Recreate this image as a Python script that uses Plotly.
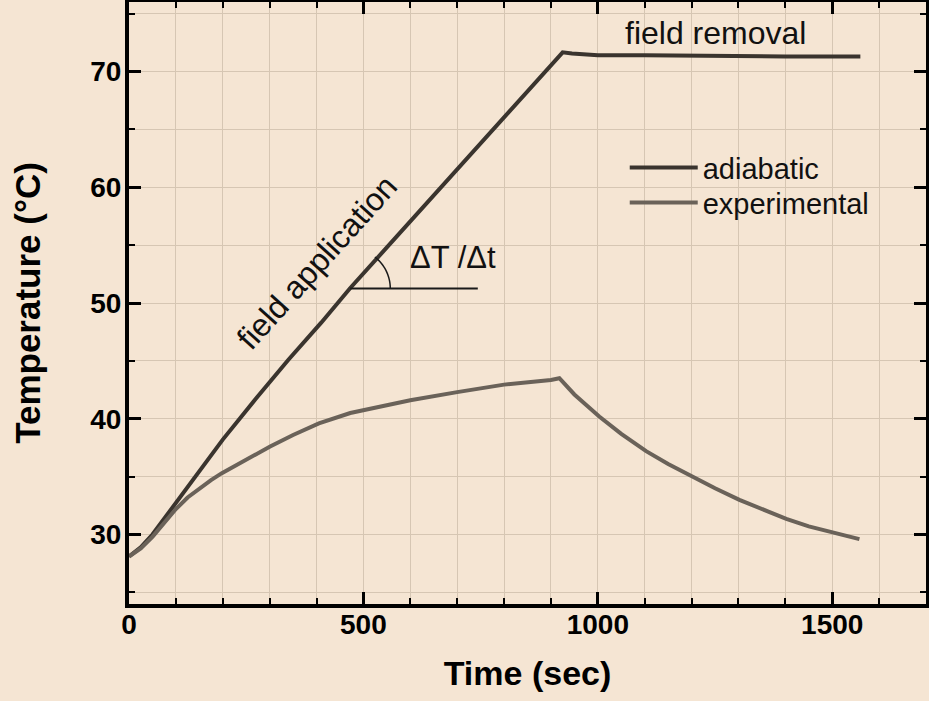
import numpy as np
import plotly.graph_objects as go

# data
time_adiabatic = [0, 25, 50, 100, 150, 200, 270, 340, 410, 472, 550, 650, 750, 850,
                  900, 925, 945, 1000, 1100, 1200, 1300, 1400, 1500, 1560]
temp_adiabatic = [28.1, 28.9, 30.0, 32.7, 35.5, 38.2, 41.7, 45.1, 48.3, 51.3, 54.8, 59.3, 63.8, 68.3,
                  70.6, 71.65, 71.55, 71.4, 71.4, 71.35, 71.3, 71.3, 71.3, 71.3]

time_experimental = [0, 25, 50, 84, 100, 125, 150, 175, 198, 250, 301, 350, 405, 472, 526, 600, 700,
                     800, 900, 918, 950, 1003, 1050, 1103, 1150, 1202, 1250, 1302, 1350, 1402, 1450,
                     1505, 1558]
temp_experimental = [28.1, 28.8, 29.8, 31.4, 32.2, 33.2, 34.0, 34.7, 35.3, 36.5, 37.6, 38.6, 39.6,
                     40.5, 41.0, 41.6, 42.3, 42.95, 43.35, 43.5, 42.1, 40.2, 38.7, 37.2, 36.1, 35.0,
                     34.0, 33.0, 32.2, 31.35, 30.7, 30.15, 29.6]

series_names = ["adiabatic", "experimental"]

# style
BG = "#F5E5D3"
GRID = "#D6C6B3"
C_ADIA = "#3A342E"
C_EXP = "#6A6259"
FONT = "Liberation Sans, Arial, sans-serif"

X_RANGE = [0, 1700]
Y_RANGE = [24, 76]
W, H = 929, 701
M = dict(l=129, r=3, t=2, b=97)

fig = go.Figure()
fig.add_trace(go.Scatter(x=time_adiabatic, y=temp_adiabatic, mode="lines", name=series_names[0],
                         line=dict(color=C_ADIA, width=4), legend="legend"))
fig.add_trace(go.Scatter(x=time_experimental, y=temp_experimental, mode="lines", name=series_names[1],
                         line=dict(color=C_EXP, width=4), legend="legend2"))

# slope marker: horizontal line + arc
px_per_x = (W - M["l"] - M["r"]) / (X_RANGE[1] - X_RANGE[0])
px_per_y = (H - M["t"] - M["b"]) / (Y_RANGE[1] - Y_RANGE[0])
cx, cy = 472, 51.25
fig.add_shape(type="line", x0=cx, y0=cy, x1=744, y1=cy, xref="x", yref="y",
              line=dict(color="#1a1a1a", width=2))
ang = np.linspace(0, np.deg2rad(52), 20)
r = 40
ax = cx + r * np.cos(ang) / px_per_x
ay = cy + r * np.sin(ang) / px_per_y
path = "M " + " L ".join(f"{a:.2f},{b:.3f}" for a, b in zip(ax, ay))
fig.add_shape(type="path", path=path, xref="x", yref="y", line=dict(color="#1a1a1a", width=1.5))

ann_font = dict(family=FONT, size=31, color="#111111")
fig.add_annotation(x=1252, y=73.3, text="field removal", showarrow=False,
                   font=dict(family=FONT, size=32, color="#111111"))
fig.add_annotation(x=692, y=53.9, text="ΔT /Δt", showarrow=False, font=ann_font)
fig.add_annotation(x=402, y=53.5, text="field application", showarrow=False, textangle=-48,
                   font=dict(family=FONT, size=32, color="#111111"))

axis_common = dict(
    showline=True, linewidth=4, linecolor="black", mirror="ticks",
    ticks="inside", ticklen=12, tickwidth=3, tickcolor="black",
    showgrid=True, gridcolor=GRID, gridwidth=1, zeroline=False, automargin=False,
    tickfont=dict(family=FONT, size=28, color="black", weight="bold"),
)

fig.update_xaxes(range=X_RANGE, dtick=500, tick0=0, ticklabelstandoff=-8,
                 minor=dict(ticks="inside", ticklen=6, tickwidth=2, tickcolor="black",
                            dtick=100, showgrid=True, gridcolor=GRID, gridwidth=1),
                 title=dict(text="Time (sec)", standoff=24,
                            font=dict(family=FONT, size=34, color="black", weight="bold")),
                 **axis_common)
fig.update_yaxes(range=Y_RANGE, dtick=10, tick0=0, ticklabelstandoff=-2,
                 minor=dict(ticks="inside", ticklen=6, tickwidth=2, tickcolor="black",
                            dtick=5, showgrid=True, gridcolor=GRID, gridwidth=1),
                 title=dict(text="Temperature (°C)", standoff=40,
                            font=dict(family=FONT, size=35, color="black", weight="bold")),
                 **axis_common)

legend_common = dict(x=0.622, xanchor="left", yanchor="top", bgcolor="rgba(0,0,0,0)",
                     font=dict(family=FONT, size=29, color="#111111"), itemwidth=68)

fig.update_layout(
    width=W, height=H, margin=M,
    paper_bgcolor=BG, plot_bgcolor=BG,
    showlegend=True,
    legend=dict(y=0.767, **legend_common),
    legend2=dict(y=0.709, **legend_common),
)

fig.write_html("out.html", config={"displayModeBar": False},
               post_script="document.body.style.margin='0px';")
